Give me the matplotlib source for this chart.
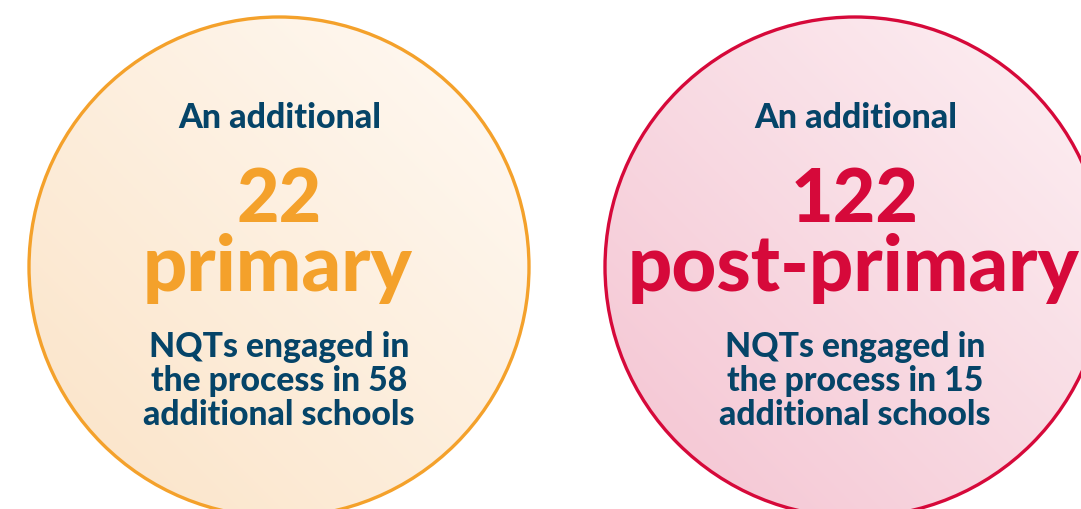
import numpy as np
import matplotlib
matplotlib.use("Agg")
import matplotlib.pyplot as plt
from matplotlib.patches import Circle
from matplotlib.colors import LinearSegmentedColormap

# Data
values = [22, 122]
categories = ["primary", "post-primary"]
schools = [58, 15]
intro = "An additional"

# Styles
edge_colors = ["#f4a12b", "#d6093a"]
grad_dark = ["#fbe3c6", "#f4c3d1"]
grad_light = ["#fffaf5", "#fdf1f4"]
navy = "#054468"
centers = [(279, 267), (855, 267)]
radius = 250

W, H = 1081, 509
fig = plt.figure(figsize=(W / 100, H / 100), dpi=100)
ax = fig.add_axes([0, 0, 1, 1])
ax.set_xlim(0, W)
ax.set_ylim(H, 0)
ax.axis("off")

font = "Lato"
wt = 900

for i in range(2):
    cx, cy = centers[i]
    cmap = LinearSegmentedColormap.from_list("g%d" % i, [grad_dark[i], grad_light[i]])
    n = 400
    xs = np.linspace(-1, 1, n)
    X, Y = np.meshgrid(xs, xs)
    G = (X - Y) / 2.0
    G = (G + 1) / 2
    ext = (cx - radius, cx + radius, cy + radius, cy - radius)
    im = ax.imshow(G, cmap=cmap, extent=ext, origin="upper", zorder=1, interpolation="bilinear")
    clip = Circle((cx, cy), radius, transform=ax.transData, facecolor="none", edgecolor="none")
    ax.add_patch(clip)
    im.set_clip_path(clip)
    ax.add_patch(Circle((cx, cy), radius, facecolor="none", edgecolor=edge_colors[i], lw=2.4, zorder=3))

    ax.text(cx + 1, 128, intro, ha="center", va="baseline", fontsize=24.5, fontweight=wt,
            color=navy, family=font, zorder=4)
    ax.text(cx, 222, str(values[i]), ha="center", va="baseline", fontsize=53, fontweight=wt,
            color=edge_colors[i], family=font, zorder=4)
    ax.text(cx - 1, 291, categories[i], ha="center", va="baseline", fontsize=56, fontweight=wt,
            color=edge_colors[i], family=font, zorder=4)
    body = ["NQTs engaged in", "the process in %d" % schools[i], "additional schools"]
    for j, line in enumerate(body):
        ax.text(cx, 357 + j * 34, line, ha="center", va="baseline", fontsize=24.3, fontweight=wt,
                color=navy, family=font, zorder=4)

fig.savefig("out.png", dpi=100, facecolor="white")
